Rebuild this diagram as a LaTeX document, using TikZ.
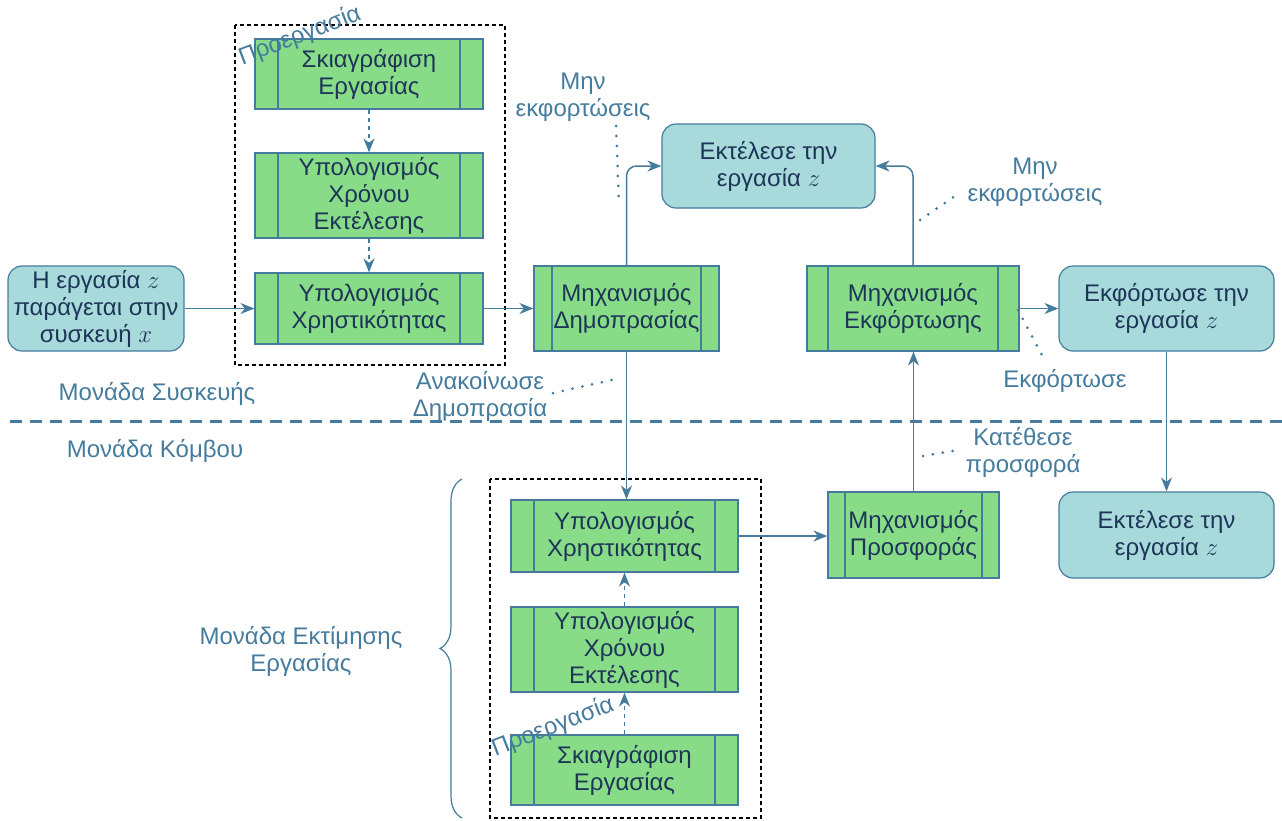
\documentclass[tikz,border=0pt]{standalone}
\usepackage{fontspec}
\setmainfont{Liberation Sans}
\usetikzlibrary{arrows.meta,decorations.pathreplacing}
\definecolor{ink}{HTML}{1D3557}
\definecolor{steel}{HTML}{457B9D}
\definecolor{tealfill}{HTML}{A8DADC}
\definecolor{leaf}{HTML}{88DC88}
\newcommand{\boxfont}{\fontsize{24}{27}\selectfont}
\begin{document}
\begin{tikzpicture}[x=1pt,y=-1pt,
  sidebar/.code={\def\pinset{#1}},
  proc/.style={sidebar=23pt, draw=steel, line width=1.2pt, fill=leaf, text=ink,
    align=center, font=\boxfont, inner sep=2pt, minimum width=228pt,
    path picture={\draw[steel,line width=1.2pt]
      ([xshift=\pinset]path picture bounding box.north west) -- ([xshift=\pinset]path picture bounding box.south west)
      ([xshift=-\pinset]path picture bounding box.north east) -- ([xshift=-\pinset]path picture bounding box.south east);}},
  job/.style={draw=steel, line width=1.2pt, fill=tealfill, rounded corners=14pt, text=ink,
    align=center, font=\boxfont, inner sep=2pt},
  lbl/.style={text=steel, align=center, font=\boxfont, inner sep=1pt},
  flow/.style={draw=steel, line width=1.5pt, -{Stealth[length=14pt,width=11pt,inset=4.5pt]}},
  prep/.style={flow, dash pattern=on 4pt off 4pt},
  grp/.style={draw=black, line width=1.2pt, dash pattern=on 4pt off 3pt},
  sep/.style={draw=steel, line width=3pt, dash pattern=on 12pt off 8pt},
  hint/.style={draw=steel, line width=3pt, line cap=round, dash pattern=on 0pt off 10pt}]
\useasboundingbox (0,0) rectangle (1282,820);

% device side: preprocessing group
\draw[grp] (235,25) rectangle (505,365);
\node[proc, minimum height=70pt] (sk1) at (369,74) {Σκιαγράφιση\\Εργασίας};
\node[proc, minimum height=85pt] (tm1) at (369,195.5) {Υπολογισμός\\Χρόνου\\Εκτέλεσης};
\node[proc, minimum height=71pt] (ut1) at (369,308.5) {Υπολογισμός\\Χρηστικότητας};
\node[lbl, rotate=21] (pre1) at (300,36) {Προεργασία};

\node[job, minimum width=176pt, minimum height=85pt] (gen) at (96,308.5) {Η εργασία $z$\\παράγεται στην\\συσκευή $x$};
\node[proc, minimum width=185pt, minimum height=85pt, sidebar=18pt] (auc) at (626.5,308.5) {Μηχανισμός\\Δημοπρασίας};
\node[job, minimum width=213pt, minimum height=84pt] (ex1) at (768.5,166) {Εκτέλεσε την\\εργασία $z$};
\node[proc, minimum width=212pt, minimum height=85pt, sidebar=21pt] (off) at (913,308.5) {Μηχανισμός\\Εκφόρτωσης};
\node[job, minimum width=215pt, minimum height=85pt] (ofj) at (1166.5,308.5) {Εκφόρτωσε την\\εργασία $z$};
\node[job, minimum width=215pt, minimum height=86pt] (ex2) at (1166.5,535) {Εκτέλεσε την\\εργασία $z$};

% node side: task estimation group
\draw[grp] (490,479) rectangle (761,818);
\node[proc, minimum width=227pt, minimum height=72pt] (ut2) at (624.5,536) {Υπολογισμός\\Χρηστικότητας};
\node[proc, minimum width=227pt, minimum height=85pt] (tm2) at (624.5,649.5) {Υπολογισμός\\Χρόνου\\Εκτέλεσης};
\node[proc, minimum width=227pt, minimum height=70pt] (sk2) at (624.5,770) {Σκιαγράφιση\\Εργασίας};
\node[lbl, rotate=21] (pre2) at (553,727) {Προεργασία};
\node[proc, minimum width=171pt, minimum height=86pt, sidebar=17pt] (bid) at (913.5,535) {Μηχανισμός\\Προσφοράς};

% boundary between device and node
\coordinate (sepL) at (10,421);
\coordinate (sepR) at (1282,421);
\draw[sep] (sepL) -- (sepR);
\node[lbl] (devunit) at (157,394) {Μονάδα Συσκευής};
\node[lbl] (nodeunit) at (155,451) {Μονάδα Κόμβου};
\node[lbl] (estunit) at (301,651) {Μονάδα Εκτίμησης\\Εργασίας};
\draw[steel, line width=1.2pt, decorate, decoration={brace, amplitude=22pt}] (462,818) -- (462,479);

% connectors
\draw[prep] (sk1) -- (tm1);
\draw[prep] (tm1) -- (ut1);
\draw[prep] (sk2) -- (tm2);
\draw[prep] (tm2) -- (ut2);
\draw[flow] (gen) -- (ut1);
\draw[flow] (ut1) -- (auc);
\draw[flow, rounded corners=10pt] (auc.north) |- (ex1.west);
\draw[flow, rounded corners=10pt] (off.north) |- (ex1.east);
\draw[flow] (off) -- (ofj);
\draw[flow] (ofj) -- (ex2);
\draw[flow] (auc.south) -- (auc.south |- ut2.north);
\draw[flow] (ut2.east) -- (ut2.east -| bid.west);
\draw[flow] (bid.north) -- (bid.north |- off.south);

% message labels with dotted leaders
\node[lbl] (nooff1) at (583,97) {Μην\\εκφορτώσεις};
\node[lbl] (nooff2) at (1035,182) {Μην\\εκφορτώσεις};
\node[lbl] (offmsg) at (1065,381) {Εκφόρτωσε};
\node[lbl] (bidmsg) at (1023,452) {Κατέθεσε\\προσφορά};
\node[lbl] (annmsg) at (480,396) {Ανακοίνωσε\\Δημοπρασία};
\coordinate (h1a) at (616,126); \coordinate (h1b) at (619,205);
\coordinate (h2a) at (920,220); \coordinate (h2b) at (958,194);
\coordinate (h3a) at (1018,310); \coordinate (h3b) at (1044,359);
\coordinate (h4a) at (923,456); \coordinate (h4b) at (958,450);
\coordinate (h5a) at (553,393); \coordinate (h5b) at (612,380);
\draw[hint] (h1a) -- (h1b);
\draw[hint] (h2a) -- (h2b);
\draw[hint] (h3a) -- (h3b);
\draw[hint] (h4a) -- (h4b);
\draw[hint] (h5a) -- (h5b);
\end{tikzpicture}
\end{document}
